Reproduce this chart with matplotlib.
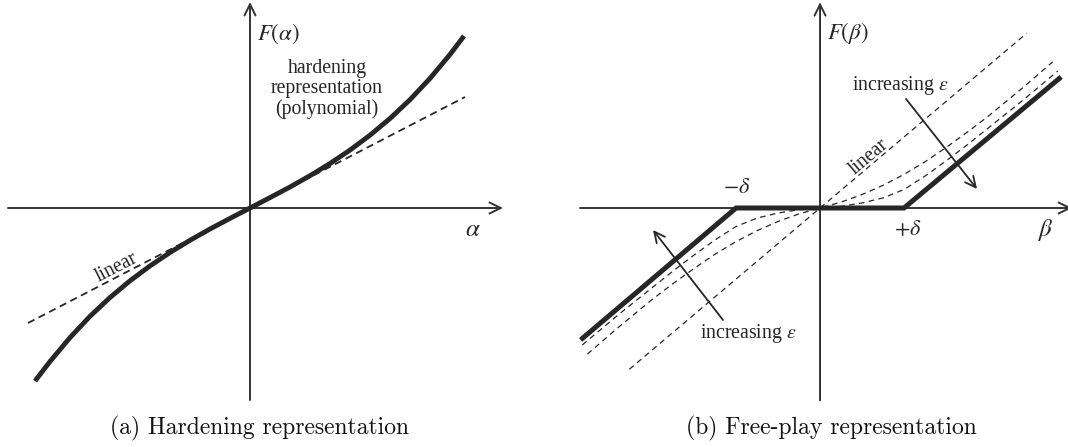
import numpy as np
import matplotlib.pyplot as plt
from matplotlib.patches import FancyArrowPatch

plt.rcParams['mathtext.fontset'] = 'stix'
plt.rcParams['font.family'] = 'Liberation Serif'

INK = '#262626'
AXC = '#333333'

# (a) hardening: cubic stiffness curve and its linear tangent
alpha = [-2.15, -2.0, -1.8, -1.6, -1.4, -1.2, -1.0, -0.8, -0.6, -0.4, -0.2, 0,
         0.2, 0.4, 0.6, 0.8, 1.0, 1.2, 1.4, 1.6, 1.8, 2.0, 2.14]
F_hard = [-1.73, -1.535, -1.296, -1.083, -0.895, -0.728, -0.579, -0.445, -0.323, -0.210, -0.104, 0,
          0.104, 0.210, 0.323, 0.445, 0.579, 0.728, 0.895, 1.083, 1.296, 1.535, 1.72]
alpha_lin = [-2.22, 2.15]
F_lin_a = [-1.15, 1.11]

# (b) free-play: piecewise stiffness, linear and two smoothed versions
beta_fp = [-2.85, -1.0, 1.0, 2.87]
F_fp = [-1.57, 0, 0, 1.56]
beta_lin = [-2.27, 2.46]
F_lin_b = [-1.92, 2.08]
beta_s1 = [-2.77, -2.4, -2.0, -1.75, -1.5, -1.25, -1.0, -0.75, -0.5, -0.25, 0,
           0.25, 0.5, 0.75, 1.0, 1.25, 1.5, 1.75, 2.0, 2.4, 2.77]
F_s1 = [-1.74, -1.42, -1.09, -0.90, -0.72, -0.55, -0.40, -0.27, -0.16, -0.07, 0,
        0.07, 0.16, 0.27, 0.40, 0.55, 0.72, 0.90, 1.09, 1.42, 1.74]
beta_s2 = [-2.83, -2.4, -2.0, -1.75, -1.5, -1.25, -1.0, -0.75, -0.5, -0.25, 0,
           0.25, 0.5, 0.75, 1.0, 1.25, 1.5, 1.75, 2.0, 2.4, 2.83]
F_s2 = [-1.63, -1.27, -0.95, -0.75, -0.56, -0.38, -0.22, -0.12, -0.06, -0.02, 0,
        0.02, 0.06, 0.12, 0.22, 0.38, 0.56, 0.75, 0.95, 1.27, 1.63]


def arrow(ax, p0, p1, lw=1.4, ms=18, color=AXC):
    a = FancyArrowPatch(p0, p1, arrowstyle='->,head_length=0.45,head_width=0.22',
                        mutation_scale=ms, lw=lw, color=color, clip_on=False,
                        shrinkA=0, shrinkB=0)
    ax.add_patch(a)


fig = plt.figure(figsize=(10.68, 4.47), dpi=100)

# ---- left panel
ax1 = fig.add_axes([0, 0, 0.5, 1])
ax1.set_xlim(-2.5, 2.84)
ax1.set_ylim(-2.39, 2.08)
ax1.set_axis_off()

arrow(ax1, (-2.42, 0), (2.53, 0))
arrow(ax1, (0, -1.92), (0, 2.06))
ax1.plot(alpha_lin, F_lin_a, color=INK, lw=1.3, dashes=(4, 2.6))
ax1.plot(alpha, F_hard, color=INK, lw=3.5, solid_capstyle='butt', solid_joinstyle='round')

ax1.text(0.28, 1.74, r'$F(\alpha)$', fontsize=16.5, ha='center', va='center', color=INK)
ax1.text(0.77, 1.19, 'hardening\nrepresentation\n(polynomial)', fontsize=14.2,
         ha='center', va='center', linespacing=1.08, color=INK)
ax1.text(2.23, -0.22, r'$\alpha$', fontsize=18, ha='center', va='center', color=INK)
ax1.text(-1.33, -0.60, 'linear', fontsize=14.2, ha='center', va='center',
         rotation=27.3, rotation_mode='anchor', color=INK)

# ---- right panel
ax2 = fig.add_axes([0.5, 0, 0.5, 1])
ax2.set_xlim(-3.405, 2.952)
ax2.set_ylim(-2.845, 2.476)
ax2.set_axis_off()

arrow(ax2, (-2.857, 0), (3.0, 0))
arrow(ax2, (0, -2.29), (0, 2.45))
for bx, fy in [(beta_lin, F_lin_b), (beta_s1, F_s1), (beta_s2, F_s2)]:
    ax2.plot(bx, fy, color=INK, lw=0.9, dashes=(4.5, 3.5))
ax2.plot(beta_fp, F_fp, color=INK, lw=3.6, solid_joinstyle='miter', solid_capstyle='butt')

arrow(ax2, (1.024, 1.298), (1.869, 0.226), lw=1.3, ms=17, color=INK)
arrow(ax2, (-1.155, -1.333), (-1.988, -0.262), lw=1.3, ms=17, color=INK)

ax2.text(0.333, 2.083, r'$F(\beta)$', fontsize=16.5, ha='center', va='center', color=INK)
ax2.text(0.952, 1.464, r'increasing $\varepsilon$', fontsize=14.2, ha='center', va='center', color=INK)
ax2.text(-0.857, -1.488, r'increasing $\varepsilon$', fontsize=14.2, ha='center', va='center', color=INK)
ax2.text(0.583, 0.607, 'linear', fontsize=14.2, ha='center', va='center',
         rotation=40.2, rotation_mode='anchor', color=INK)
ax2.text(-0.988, 0.238, r'$-\delta$', fontsize=16, ha='center', va='center', color=INK)
ax2.text(1.048, -0.262, r'$+\delta$', fontsize=16, ha='center', va='center', color=INK)
ax2.text(2.68, -0.262, r'$\beta$', fontsize=18, ha='center', va='center', color=INK)

# captions
fig.text(260 / 1068, 1 - 428 / 447, '(a) Hardening representation', family='cmr10',
         fontsize=17, ha='center', va='center', color='#111111')
fig.text(831 / 1068, 1 - 428 / 447, '(b) Free-play representation', family='cmr10',
         fontsize=17, ha='center', va='center', color='#111111')

fig.savefig('out.png', dpi=100)
